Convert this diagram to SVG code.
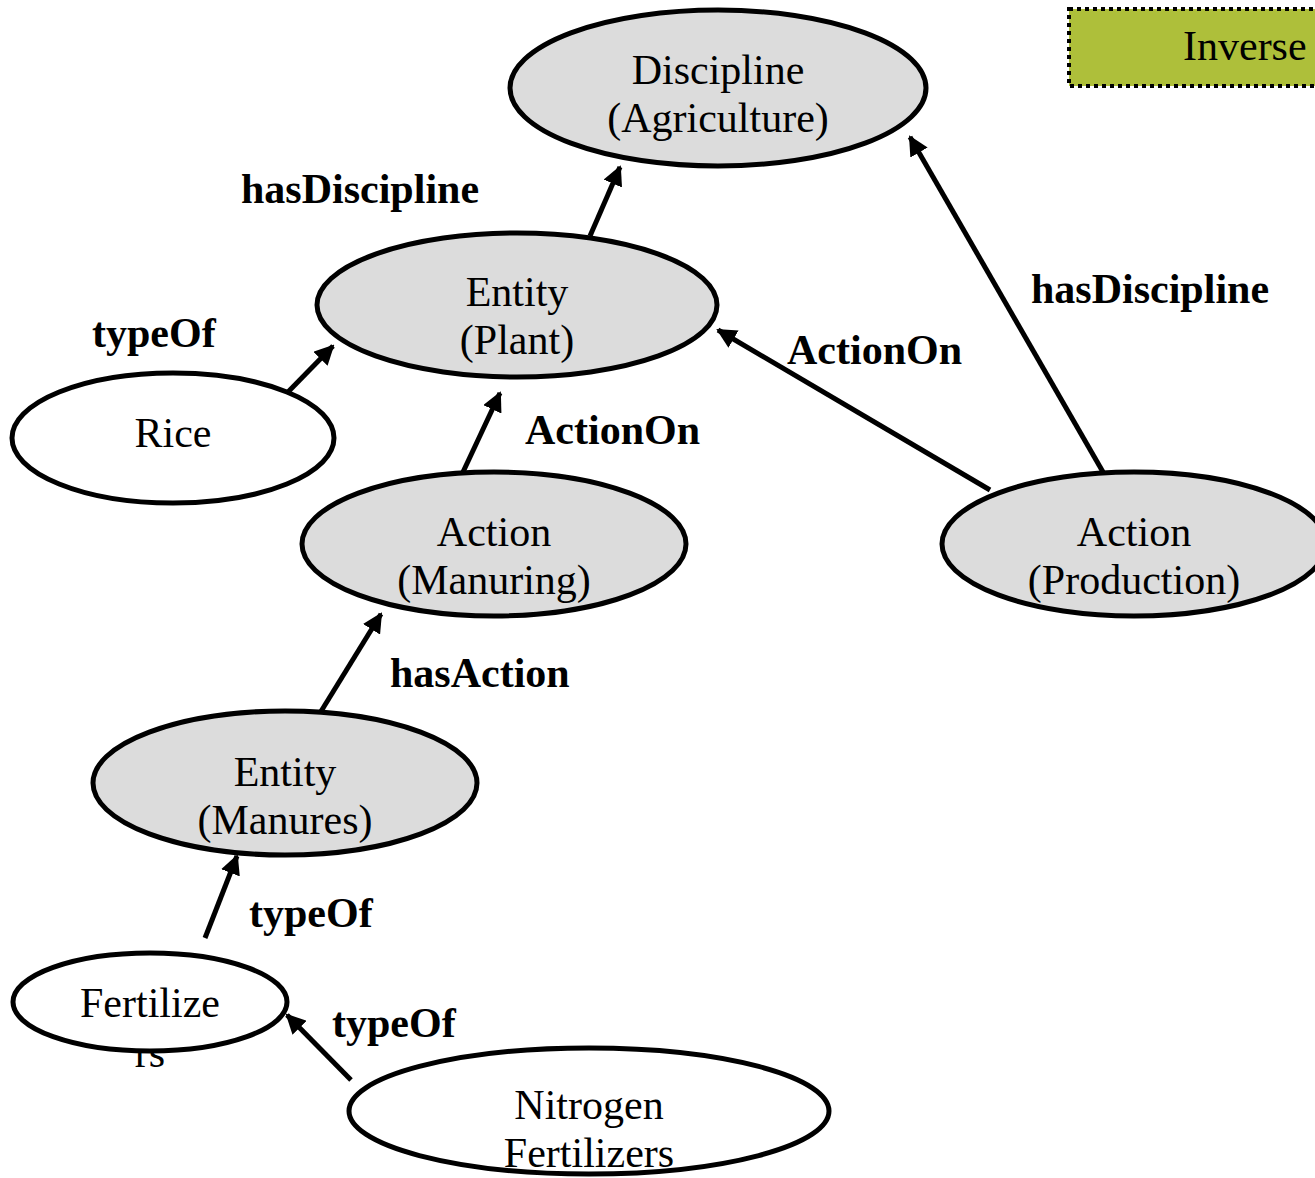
<svg xmlns="http://www.w3.org/2000/svg" width="1315" height="1178" viewBox="0 0 1315 1178">
  <defs>
    <marker id="arrow" viewBox="0 0 10 10" refX="9" refY="5" markerWidth="4" markerHeight="4" orient="auto" markerUnits="strokeWidth">
      <path d="M0,0 L10,5 L0,10 Z" fill="#000"/>
    </marker>
    <style>
      .node { stroke: #000; stroke-width: 5; }
      .grey { fill: #dcdcdc; }
      .white { fill: #fff; }
      .txt { font-family: "Liberation Serif", "Times New Roman", serif; font-size: 42px; fill: #000; text-anchor: middle; }
      .lbl { font-family: "Liberation Serif", "Times New Roman", serif; font-size: 42px; font-weight: bold; fill: #000; }
      .edge { stroke: #000; stroke-width: 5; fill: none; marker-end: url(#arrow); }
    </style>
  </defs>
  <rect width="1315" height="1178" fill="#fff"/>

  <!-- legend box -->
  <g id="legend">
    <rect x="1069" y="9" width="260" height="77" fill="#aebf3a" stroke="#000" stroke-width="4" stroke-dasharray="4 4"/>
    <text x="1183" y="60" class="txt" style="text-anchor:start">Inverse</text>
  </g>

  <!-- connectors -->
  <g id="connectors">
    <line class="edge" x1="590" y1="236" x2="620" y2="167"/>
    <line class="edge" x1="1103" y1="472" x2="910" y2="137"/>
    <line class="edge" x1="287" y1="393" x2="333" y2="346"/>
    <line class="edge" x1="463" y1="472" x2="500" y2="393"/>
    <line class="edge" x1="990" y1="490" x2="718" y2="330"/>
    <line class="edge" x1="320" y1="713" x2="381" y2="614"/>
    <line class="edge" x1="205" y1="938" x2="237" y2="856"/>
    <line class="edge" x1="351" y1="1080" x2="287" y2="1015"/>
  </g>

  <!-- edge labels -->
  <g id="labels">
    <text class="lbl" x="241" y="203">hasDiscipline</text>
    <text class="lbl" x="92" y="347">typeOf</text>
    <text class="lbl" x="525" y="444">ActionOn</text>
    <text class="lbl" x="787" y="364">ActionOn</text>
    <text class="lbl" x="1031" y="303">hasDiscipline</text>
    <text class="lbl" x="390" y="687">hasAction</text>
    <text class="lbl" x="249" y="927">typeOf</text>
    <text class="lbl" x="332" y="1037">typeOf</text>
  </g>

  <g id="discipline-agriculture">
    <ellipse class="node grey" cx="718" cy="88" rx="208" ry="78"/>
    <text class="txt" x="718" y="84">Discipline</text>
    <text class="txt" x="718" y="132">(Agriculture)</text>
  </g>

  <g id="entity-plant">
    <ellipse class="node grey" cx="517" cy="305" rx="200" ry="72"/>
    <text class="txt" x="517" y="306">Entity</text>
    <text class="txt" x="517" y="354">(Plant)</text>
  </g>

  <g id="rice">
    <ellipse class="node white" cx="173" cy="438" rx="161" ry="65"/>
    <text class="txt" x="173" y="447">Rice</text>
  </g>

  <g id="action-manuring">
    <ellipse class="node grey" cx="494" cy="544" rx="192" ry="72"/>
    <text class="txt" x="494" y="546">Action</text>
    <text class="txt" x="494" y="594">(Manuring)</text>
  </g>

  <g id="action-production">
    <ellipse class="node grey" cx="1134" cy="544" rx="192" ry="72"/>
    <text class="txt" x="1134" y="546">Action</text>
    <text class="txt" x="1134" y="594">(Production)</text>
  </g>

  <g id="entity-manures">
    <ellipse class="node grey" cx="285" cy="783" rx="192" ry="72"/>
    <text class="txt" x="285" y="786">Entity</text>
    <text class="txt" x="285" y="834">(Manures)</text>
  </g>

  <g id="fertilizers">
    <text class="txt" x="150" y="1067">rs</text>
    <ellipse class="node white" cx="150" cy="1002" rx="137" ry="49"/>
    <text class="txt" x="150" y="1017">Fertilize</text>
  </g>

  <g id="nitrogen-fertilizers">
    <ellipse class="node white" cx="589" cy="1111" rx="240" ry="63"/>
    <text class="txt" x="589" y="1119">Nitrogen</text>
    <text class="txt" x="589" y="1167">Fertilizers</text>
  </g>
</svg>
